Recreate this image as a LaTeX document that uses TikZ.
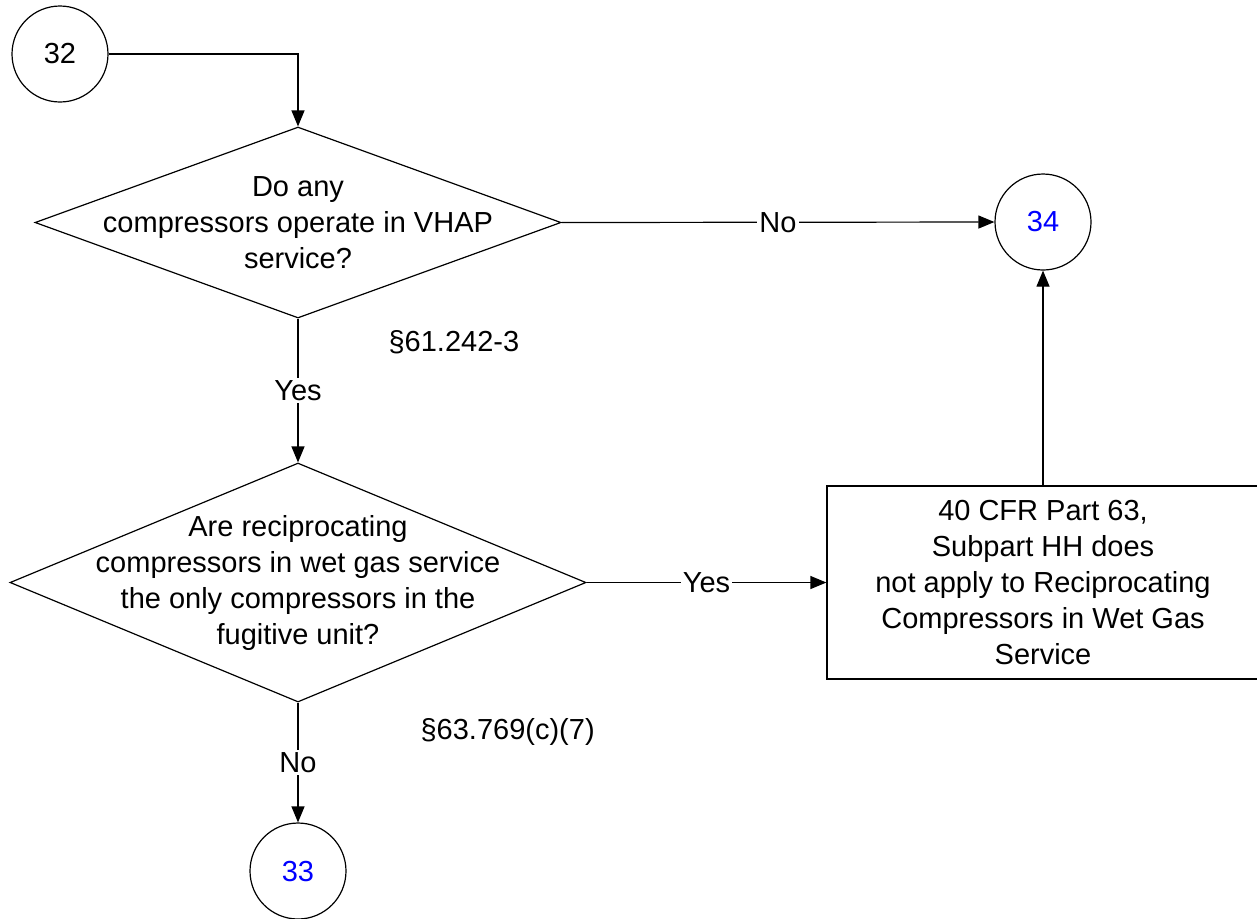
\documentclass[tikz,border=0pt]{standalone}
\usepackage{fontspec}
\setmainfont{Liberation Sans}
\usetikzlibrary{arrows.meta,shapes.geometric}

\begin{document}
\begin{tikzpicture}[x=0.5pt, y=-0.5pt, line width=0.6pt,
		font=\fontsize{14.5pt}{18pt}\selectfont,
		conn/.style={draw, circle, minimum size=48pt, inner sep=0pt},
		dec/.style={draw, diamond, inner sep=0pt},
		txt/.style={align=center, inner sep=0pt},
		lbl/.style={fill=white, inner sep=1pt},
		arr/.style={-{Triangle[length=8pt, width=6.5pt]}}]
			
			\useasboundingbox (0,0) rectangle (1257,918);
			
			\node[conn] (c32) at (60,54) {32};
			\node[conn, text=blue] (c34) at (1043,222) {34};
			\node[conn, text=blue] (c33) at (298,871) {33};
			
			\node[dec, minimum width=263pt, minimum height=95.5pt] (q1) at (298,222.5) {};
			\node[txt] (q1t) at (q1) {Do any\\compressors operate in VHAP\\service?};
			
			\node[dec, minimum width=288pt, minimum height=119.5pt] (q2) at (298,582.5) {};
			\node[txt] (q2t) at (q2) {Are reciprocating\\compressors in wet gas service\\the only compressors in the\\fugitive unit?};
			
			\node[draw, txt, minimum width=216pt, minimum height=96.5pt] (res) at (1043,582.5)
			{40 CFR Part 63,\\Subpart HH does\\not apply to Reciprocating\\Compressors in Wet Gas\\Service};
			
			\node[txt, anchor=west] (ref1) at (388,342) {§61.242-3};
			\node[txt, anchor=west] (ref2) at (420,732) {§63.769(c)(7)};
			
			\draw[arr] (c32.east) -| (q1.north);
			\draw[arr] (q1.east) -- node[lbl] (no1) {No} (c34.west);
			\draw[arr] (q1.south) -- node[lbl] (yes1) {Yes} (q2.north);
			\draw[arr] (q2.east) -- node[lbl] (yes2) {Yes} (res.west);
			\draw[arr] (res.north) -- (c34.south);
			\draw[arr] (q2.south) -- node[lbl] (no2) {No} (c33.north);
			
		\end{tikzpicture}
\end{document}
